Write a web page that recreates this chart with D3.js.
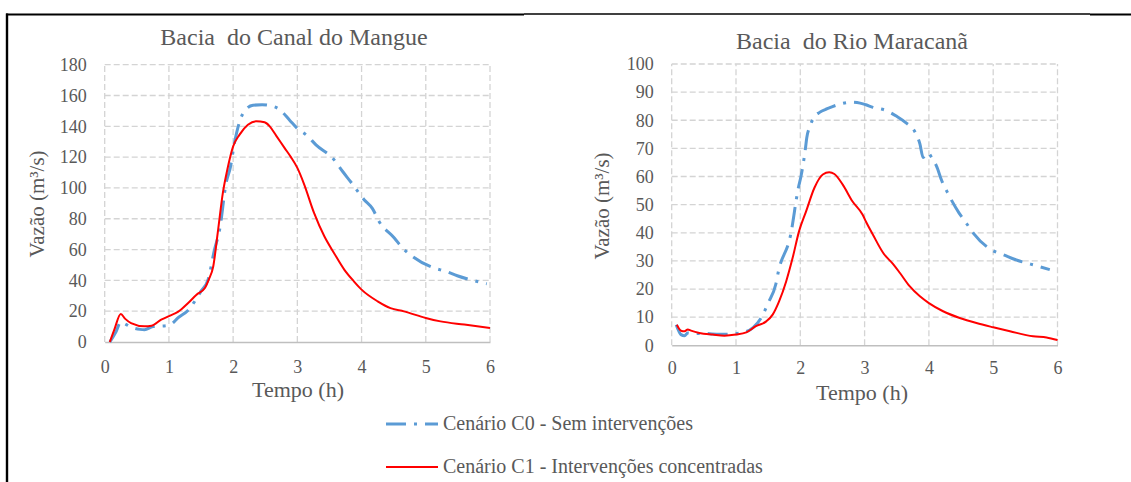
<!DOCTYPE html>
<html>
<head>
<meta charset="utf-8">
<script src="https://cdn.jsdelivr.net/npm/d3@7"></script>
<style>
  html, body { margin: 0; padding: 0; background: #fff; }
  svg { display: block; }
  text { font-family: "Liberation Serif", "Times New Roman", serif; fill: #595959; white-space: pre; }
</style>
</head>
<body>
<svg id="fig" width="1131" height="482"></svg>
<script>
// Hydrographs: time (h), discharge (m³/s)
const mangueC0 = [[0.08,0],[0.18,7],[0.25,13],[0.33,11.5],[0.41,9.7],[0.55,8.2],[0.62,8],[0.75,10],[0.96,10.6],[1.05,12],[1.14,15.6],[1.3,20.6],[1.5,33],[1.61,40.5],[1.71,60],[1.79,73],[1.89,103],[1.96,114],[2.02,129],[2.1,143],[2.2,151],[2.31,153.7],[2.45,154],[2.54,153.7],[2.72,151],[2.88,144],[2.99,139],[3.15,134],[3.29,128],[3.57,118.4],[3.7,111],[3.83,104],[4.04,92.4],[4.17,86.6],[4.27,78.4],[4.51,67.5],[4.64,61],[4.79,55.6],[5.13,48],[5.31,45.9],[5.49,43],[5.86,38.7],[5.95,37.8]];
const mangueC1 = [[0.08,0],[0.15,8],[0.25,18.2],[0.32,15],[0.41,12.3],[0.62,10.2],[0.73,10.6],[0.88,14.5],[1.01,17],[1.14,19.5],[1.3,25.3],[1.43,30.7],[1.56,35],[1.62,40.5],[1.69,49],[1.76,70.8],[1.84,96.8],[1.91,112],[2.0,127],[2.1,134.6],[2.23,141],[2.36,143.3],[2.49,142.6],[2.57,140],[2.67,134],[2.8,126],[2.9,120],[3.0,113],[3.1,103],[3.26,83.8],[3.42,68.6],[3.57,57.8],[3.73,47],[3.88,39.4],[4.0,34],[4.25,26.4],[4.45,22],[4.66,19.9],[5.0,15.6],[5.23,13.4],[5.6,11.3],[6.0,9.1]];
const maracanaC0 = [[0.07,7.3],[0.145,3.8],[0.2,3.4],[0.25,4.4],[0.33,4.2],[0.5,4.2],[0.75,3.9],[1.0,4.2],[1.15,4.8],[1.27,6.4],[1.39,9.7],[1.5,15],[1.62,21.8],[1.66,26.3],[1.85,39.3],[1.97,56],[2.01,60],[2.08,70],[2.1,73.7],[2.15,77.8],[2.2,80.6],[2.3,82.8],[2.42,84.1],[2.58,85.5],[2.79,86.4],[2.93,86.1],[3.02,85.5],[3.13,84.6],[3.33,83.5],[3.5,81.4],[3.65,79],[3.78,76],[3.86,71.6],[3.91,66.8],[3.98,68.4],[4.05,66.5],[4.12,63.6],[4.2,58.5],[4.28,54.7],[4.47,47],[4.58,43.5],[4.69,39.9],[5.0,33.6],[5.16,32.2],[5.34,30.5],[5.7,28.1],[5.88,26.9]];
const maracanaC1 = [[0.08,7.3],[0.145,5.2],[0.2,5],[0.25,5.6],[0.3,5.2],[0.43,4.4],[0.64,3.8],[0.82,3.4],[1.0,3.8],[1.16,4.6],[1.31,6.8],[1.47,8.5],[1.57,10.9],[1.67,15.6],[1.78,22.7],[1.88,31],[1.98,40.5],[2.09,47.6],[2.22,56],[2.35,60.7],[2.45,61.5],[2.53,60.9],[2.66,57.1],[2.81,51.2],[2.97,46.4],[3.02,44],[3.13,39.3],[3.29,32.8],[3.45,28.7],[3.55,25.7],[3.7,21],[3.86,17.4],[4.0,15],[4.22,12.1],[4.48,9.7],[4.74,7.9],[5.0,6.4],[5.26,5],[5.62,3.2],[5.83,2.8],[6.0,1.9]];

const timeTicks = [0, 1, 2, 3, 4, 5, 6];
const mangueTicks = [0, 20, 40, 60, 80, 100, 120, 140, 160, 180];
const maracanaTicks = [0, 10, 20, 30, 40, 50, 60, 70, 80, 90, 100];

const seriesNames = ["Cenário C0 - Sem intervenções", "Cenário C1 - Intervenções concentradas"];
const titles = ["Bacia  do Canal do Mangue", "Bacia  do Rio Maracanã"];
const xTitle = "Tempo (h)";
const yTitle = "Vazão (m³/s)";

const BLUE = "#5b9bd5", RED = "#ff0000", GRID = "#d4d4d4";
const C0_DASH = "20,8,3,8";
const SERIF = '"Liberation Serif", "Times New Roman", serif';

const svg = d3.select("#fig");

// table frame around the figure
svg.append("line").attr("x1", 6).attr("x2", 524).attr("y1", 14.5).attr("y2", 14.5).attr("stroke", "#000").attr("stroke-width", 2);
svg.append("line").attr("x1", 524).attr("x2", 1090).attr("y1", 14).attr("y2", 14).attr("stroke", "#000").attr("stroke-width", 1.3);
svg.append("line").attr("x1", 1090).attr("x2", 1131).attr("y1", 14.5).attr("y2", 14.5).attr("stroke", "#000").attr("stroke-width", 2);
svg.append("line").attr("x1", 7).attr("x2", 7).attr("y1", 13.5).attr("y2", 482).attr("stroke", "#000").attr("stroke-width", 2.4);

function styleTicks(sel) {
  sel.attr("font-family", SERIF).attr("font-size", 18);
  sel.selectAll("text").attr("fill", "#595959").style("font-family", SERIF).style("font-size", "18px");
}

function drawChart(opt) {
  const x = d3.scaleLinear().domain([0, 6]).range([opt.x0, opt.x1]);
  const y = d3.scaleLinear().domain([0, opt.yMax]).range([opt.y0, opt.y1]);
  const g = svg.append("g");

  // dashed grid
  g.append("g").selectAll("line").data(opt.yTicks.slice(1)).join("line")
    .attr("x1", opt.x0).attr("x2", opt.x1)
    .attr("y1", d => y(d)).attr("y2", d => y(d))
    .attr("stroke", GRID).attr("stroke-width", 1.3).attr("stroke-dasharray", "6,3");
  g.append("g").selectAll("line").data(timeTicks).join("line")
    .attr("x1", d => x(d)).attr("x2", d => x(d))
    .attr("y1", opt.y0).attr("y2", opt.y1)
    .attr("stroke", GRID).attr("stroke-width", 1.3).attr("stroke-dasharray", "6,3");

  // axes
  const ax = g.append("g").attr("transform", `translate(0,${opt.y0})`)
    .call(d3.axisBottom(x).tickValues(timeTicks).tickFormat(d3.format("d")).tickSize(0).tickPadding(opt.xPad));
  ax.select(".domain").attr("stroke", "#bfbfbf").attr("stroke-width", 1.5);
  styleTicks(ax);

  const ay = g.append("g").attr("transform", `translate(${opt.x0},0)`)
    .call(d3.axisLeft(y).tickValues(opt.yTicks).tickFormat(d3.format("d")).tickSize(0).tickPadding(18));
  ay.select(".domain").remove();
  styleTicks(ay);

  // series
  const line = d3.line().x(d => x(d[0])).y(d => y(d[1])).curve(d3.curveMonotoneX);
  g.append("path").datum(opt.c0).attr("d", line).attr("fill", "none")
    .attr("stroke", BLUE).attr("stroke-width", 3).attr("stroke-dasharray", C0_DASH);
  g.append("path").datum(opt.c1).attr("d", line).attr("fill", "none")
    .attr("stroke", RED).attr("stroke-width", 2);

  // labels
  g.append("text").attr("x", opt.titleX).attr("y", opt.titleY).attr("text-anchor", "middle")
    .style("font-size", "24px").text(opt.title);
  g.append("text").attr("x", opt.xTitleX).attr("y", opt.xTitleY).attr("text-anchor", "middle")
    .style("font-size", "22px").text(xTitle);
  g.append("text").attr("transform", `translate(${opt.yTitleX},${opt.yTitleY}) rotate(-90)`)
    .attr("text-anchor", "middle").style("font-size", "21px").text(yTitle);
}

drawChart({
  x0: 104.7, x1: 490, y0: 342, y1: 64.7, yMax: 180, yTicks: mangueTicks,
  c0: mangueC0, c1: mangueC1, title: titles[0], titleX: 294, titleY: 45,
  xPad: 18, xTitleX: 298, xTitleY: 397, yTitleX: 44, yTitleY: 204
});
drawChart({
  x0: 671.7, x1: 1057.5, y0: 345.3, y1: 64, yMax: 100, yTicks: maracanaTicks,
  c0: maracanaC0, c1: maracanaC1, title: titles[1], titleX: 852, titleY: 49,
  xPad: 16, xTitleX: 862, xTitleY: 400, yTitleX: 609, yTitleY: 206
});

// legend
const legend = svg.append("g");
const legendRows = [
  { name: seriesNames[0], color: BLUE, width: 3, dash: C0_DASH, y: 424 },
  { name: seriesNames[1], color: RED, width: 2, dash: null, y: 467 }
];
legendRows.forEach(r => {
  legend.append("line").attr("x1", 386).attr("x2", 438).attr("y1", r.y).attr("y2", r.y)
    .attr("stroke", r.color).attr("stroke-width", r.width).attr("stroke-dasharray", r.dash);
  legend.append("text").attr("x", 443).attr("y", r.y + 6).style("font-size", "20px").text(r.name);
});
</script>
</body>
</html>
